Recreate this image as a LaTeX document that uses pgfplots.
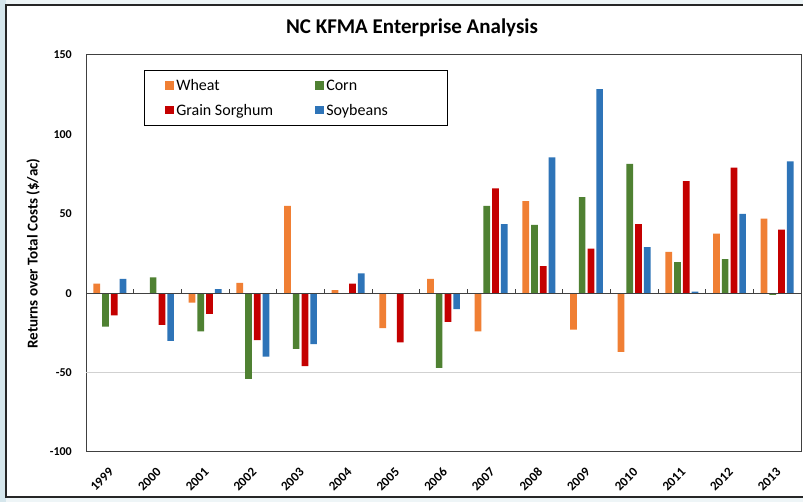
\documentclass[border=0pt]{standalone}
\usepackage{fontspec}
\setmainfont{Carlito}
\usepackage{pgfplots}
\pgfplotsset{compat=1.18}
\definecolor{wheat}{HTML}{F07F34}
\definecolor{corn}{HTML}{4F8132}
\definecolor{sorg}{HTML}{C40000}
\definecolor{soy}{HTML}{2E74B8}
\definecolor{slidebg}{HTML}{D5E6EC}
\definecolor{axisgray}{HTML}{404040}
\begin{document}
\begin{tikzpicture}
\path[use as bounding box, fill=slidebg!40] (0,0) rectangle (803pt,502pt);
\fill[slidebg] (0,0) rectangle (6pt,502pt);
\draw[fill=white, draw=black!85, line width=1.3pt] (6pt,5pt) rectangle (820pt,497pt);
\node[font=\bfseries\fontsize{21}{25}\selectfont] at (412pt,474pt) {NC KFMA Enterprise Analysis};
\begin{axis}[
  at={(86pt,50pt)}, anchor=south west,
  scale only axis, width=715pt, height=397pt,
  xmin=-0.5, xmax=14.5, ymin=-100, ymax=150,
  ybar, bar width=6.7pt,
  xtick={0,...,14},
  xticklabels={1999,2000,2001,2002,2003,2004,2005,2006,2007,2008,2009,2010,2011,2012,2013},
  ytick={-100,-50,0,50,100,150},
  yticklabels={-100,-50,0,50,100,150},
  major tick length=0pt,
  extra y ticks={-50}, extra y tick labels={},
  extra y tick style={grid=major, grid style={black!18, line width=0.8pt}},
  axis line style={draw=axisgray, line width=1pt},
  yticklabel style={font=\bfseries\fontsize{12}{14}\selectfont, anchor=east, inner sep=0pt, xshift=-14pt},
  xticklabel style={font=\bfseries\fontsize{13}{15}\selectfont, xshift=1.5pt, yshift=-18pt, rotate=45, anchor=east, inner sep=0pt},
  ylabel={Returns over Total Costs (\$/ac)},
  every axis y label/.style={at={(axis description cs:-0.074,0.5)}, rotate=90, anchor=center, font=\bfseries\fontsize{15}{18}\selectfont},
  legend style={at={(axis description cs:0.081,0.962)}, anchor=north west, draw=black, line width=0.8pt,
    font=\fontsize{16}{19}\selectfont, inner xsep=21pt, inner ysep=7pt,
    /tikz/every even column/.append style={column sep=40pt}, row sep=8pt},
  legend columns=2, legend cell align=left,
  legend image code/.code={\path[#1, draw=none] (0pt,-4pt) rectangle (9pt,4.5pt);},
]
\addplot[fill=wheat, draw=none, bar shift=-13.1pt] coordinates {(0,6) (2,-6) (3,6.5) (4,55) (5,2) (6,-22) (7,9) (8,-24) (9,58) (10,-23) (11,-37) (12,26) (13,37.5) (14,47)};
\addlegendentry{Wheat}
\addplot[fill=corn, draw=none, bar shift=-4.4pt] coordinates {(0,-21) (1,10) (2,-24) (3,-54) (4,-35) (7,-47) (8,55) (9,43) (10,60.5) (11,81.5) (12,19.5) (13,21.5) (14,-1)};
\addlegendentry{Corn}
\addplot[fill=sorg, draw=none, bar shift=4.4pt] coordinates {(0,-14) (1,-20) (2,-13) (3,-29.5) (4,-46) (5,6) (6,-31) (7,-18) (8,66) (9,17) (10,28) (11,43.5) (12,70.5) (13,79) (14,40)};
\addlegendentry{Grain Sorghum}
\addplot[fill=soy, draw=none, bar shift=13.1pt] coordinates {(0,9) (1,-30) (2,2.5) (3,-40) (4,-32) (5,12.5) (7,-10) (8,43.5) (9,85.5) (10,128.5) (11,29) (12,1) (13,50) (14,83)};
\addlegendentry{Soybeans\hspace*{36pt}}
\end{axis}
\begin{axis}[
  at={(86pt,50pt)}, anchor=south west,
  scale only axis, width=715pt, height=397pt,
  xmin=-0.5, xmax=14.5, ymin=-100, ymax=150,
  axis x line=middle, axis y line=none,
  x axis line style={-, draw=axisgray, line width=1.2pt},
  xtick={0.5,1.5,...,13.5}, xticklabels={}, ytick=\empty,
  xtick align=inside, major tick length=4pt,
  xtick style={draw=axisgray, line width=0.8pt},
]
\end{axis}
\end{tikzpicture}
\end{document}
